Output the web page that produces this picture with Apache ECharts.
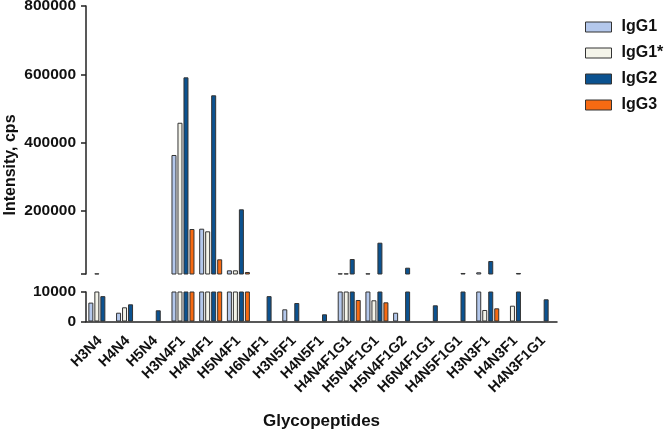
<!DOCTYPE html>
<html>
<head>
<meta charset="utf-8">
<script src="https://cdn.jsdelivr.net/npm/echarts@6/dist/echarts.min.js"></script>
<style>html,body{margin:0;padding:0;background:#fff}#c{width:666px;height:432px}</style>
</head>
<body>
<div id="c"></div>
<script>
var categories = ['H3N4','H4N4','H5N4','H3N4F1','H4N4F1','H5N4F1','H6N4F1','H3N5F1','H4N5F1','H4N4F1G1','H5N4F1G1','H5N4F1G2','H6N4F1G1','H4N5F1G1','H3N3F1','H4N3F1','H4N3F1G1'];
var seriesNames = ['IgG1','IgG1*','IgG2','IgG3'];
var igg1  = [6400, 2980, 0, 363600, 147700, 25800, 0, 4130, 0, 17000, 17000, 2980, 0, 0, 20000, 0, 0];
var igg1s = [17000, 4810, 0, 458000, 140000, 25800, 0, 0, 0, 17000, 7190, 0, 0, 0, 3900, 5360, 0];
var igg2  = [8600, 5830, 3800, 591000, 538400, 204500, 8600, 6270, 2440, 58900, 106700, 33450, 5490, 18000, 53000, 18000, 7530];
var igg3  = [0, 0, 0, 146800, 58000, 20900, 0, 0, 0, 7290, 6500, 0, 0, 0, 4470, 0, 0];
var upperTicks = [15000, 200000, 400000, 600000, 800000];
var upperLabels = [200000, 400000, 600000, 800000];

var values = [igg1, igg1s, igg2, igg3];
var colors = ['#b4c8ec', '#f4f4ea', '#0b5290', '#f76a12'];
var FONT = 'Liberation Sans, Arial, sans-serif';

var chart = echarts.init(document.getElementById('c'));
var series = [];
[0, 1].forEach(function (g) {
  values.forEach(function (arr, i) {
    series.push({
      name: seriesNames[i],
      type: 'bar',
      xAxisIndex: g,
      yAxisIndex: g,
      barWidth: 5,
      barGap: '20%',
      clip: true,
      data: arr.map(function (v) { return v === 0 ? '-' : v; }),
      itemStyle: { color: colors[i], borderColor: '#333', borderWidth: 1 },
      emphasis: { disabled: true }
    });
  });
});

function plain(v) { return String(v); }
var axisLineStyle = { color: '#222', width: 1.5 };
chart.setOption({
  animation: false,
  backgroundColor: '#fff',
  legend: {
    data: seriesNames,
    orient: 'vertical',
    left: 580,
    top: 14,
    itemWidth: 26,
    itemHeight: 10,
    itemGap: 10,
    icon: 'rect',
    itemStyle: { borderColor: '#333', borderWidth: 1 },
    textStyle: { fontFamily: FONT, fontSize: 16, fontWeight: 'bold', color: '#111', padding: [0, 0, 0, 5] }
  },
  grid: [
    { left: 86, top: 6, width: 471, height: 268, outerBoundsMode: 'none', containLabel: false },
    { left: 86, top: 292, width: 471, height: 29.5, outerBoundsMode: 'none', containLabel: false }
  ],
  xAxis: [
    { type: 'category', gridIndex: 0, data: categories, show: false },
    {
      type: 'category', gridIndex: 1, data: categories,
      axisLine: { lineStyle: axisLineStyle },
      axisTick: { alignWithLabel: true, length: 5, lineStyle: { color: '#222', width: 1.5 } },
      axisLabel: { rotate: 45, interval: 0, margin: 17, fontFamily: FONT, fontSize: 14.5, fontWeight: 'bold', color: '#111' },
      name: 'Glycopeptides', nameLocation: 'middle', nameGap: 91, nameMoveOverlap: false,
      nameTextStyle: { fontFamily: FONT, fontSize: 17, fontWeight: 'bold', color: '#111' }
    }
  ],
  yAxis: [
    {
      type: 'value', gridIndex: 0, min: 15000, max: 800000,
      axisLine: { show: true, lineStyle: axisLineStyle },
      axisTick: { show: true, length: 5, customValues: upperTicks, lineStyle: { color: '#222', width: 1.5 } },
      axisLabel: { customValues: upperLabels, formatter: plain, margin: 10, fontFamily: FONT, fontSize: 15.5, fontWeight: 'bold', color: '#111' },
      splitLine: { show: false }
    },
    {
      type: 'value', gridIndex: 1, min: 0, max: 10000, interval: 10000,
      axisLine: { show: true, lineStyle: axisLineStyle },
      axisTick: { show: true, length: 5, lineStyle: { color: '#222', width: 1.5 } },
      axisLabel: { formatter: plain, margin: 10, fontFamily: FONT, fontSize: 15.5, fontWeight: 'bold', color: '#111' },
      splitLine: { show: false }
    }
  ],
  graphic: [{
    type: 'text', x: 11, y: 165, rotation: Math.PI / 2,
    style: { text: 'Intensity, cps', fontFamily: FONT, fontSize: 16, fontWeight: 'bold', fill: '#111', textAlign: 'center', textVerticalAlign: 'middle' }
  }],
  series: series
});
</script>
</body>
</html>
